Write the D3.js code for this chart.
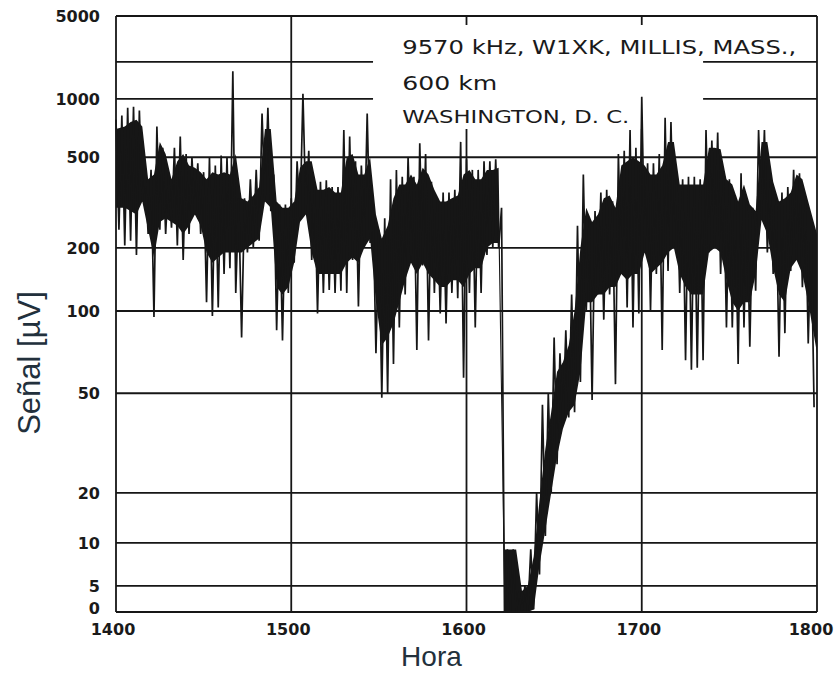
<!DOCTYPE html>
<html>
<head>
<meta charset="utf-8">
<script src="https://cdn.jsdelivr.net/npm/d3@7"></script>
<style>
  body { margin: 0; background: #fff; }
  svg { display: block; }
  .tick-lbl { font-family: "DejaVu Sans", sans-serif; font-weight: bold; font-size: 16px; fill: #1a1a1a; }
  .note { font-family: "DejaVu Sans", sans-serif; fill: #1a1a1a; }
  .title { font-family: "Liberation Sans", Arial, sans-serif; font-size: 31px; fill: #22303c; }
</style>
</head>
<body>
<svg id="chart"></svg>
<script>
// signal strength, 14:00 - 18:00, one peak and one trough per 2 minutes (uV)
const peaks = [
  780, 820, 900, 910, 870, 420, 440, 720, 560, 420,
  560, 640, 520, 500, 470, 430, 500, 460, 510, 500,
  1680, 330, 330, 400, 440, 840, 900, 420, 310, 310,
  330, 480, 1100, 540, 380, 390, 396, 370, 370, 690,
  640, 480, 460, 840, 300, 240, 270, 400, 440, 410,
  500, 410, 590, 520, 390, 330, 350, 350, 360, 600,
  490, 440, 440, 480, 480, 490, 300, 9, 9, 4,
  5, 9, 20, 45, 50, 80, 70, 85, 120, 250,
  420, 270, 290, 350, 360, 320, 520, 540, 690, 560,
  1040, 470, 470, 520, 800, 760, 400, 400, 410, 410,
  400, 690, 610, 670, 425, 400, 340, 425, 330, 300,
  690, 690, 400, 330, 350, 370, 440, 425, 330, 240
];
const troughs = [
  240, 205, 215, 185, 320, 230, 95, 240, 230, 245,
  205, 175, 230, 280, 230, 110, 96, 104, 150, 160,
  122, 80, 190, 200, 215, 320, 290, 85, 78, 122,
  170, 265, 290, 175, 98, 122, 126, 122, 125, 122,
  175, 105, 200, 210, 70, 48, 50, 64, 87, 120,
  175, 72, 165, 78, 122, 98, 90, 122, 115, 57,
  122, 87, 122, 185, 200, 200, 0, 0, 0, 0,
  0, 0.5, 6, 11, 20, 26, 37, 40, 42, 55,
  100, 47, 120, 93, 120, 54, 150, 104, 87, 98,
  190, 100, 150, 72, 155, 200, 122, 66, 61, 62,
  66, 190, 200, 150, 87, 87, 64, 87, 74, 125,
  265, 190, 150, 68, 83, 155, 175, 130, 76, 44
];
// dense (solid) part of the fading band, per 2 minutes (uV)
const coreTop = [
  700, 720, 760, 780, 720, 400, 420, 600, 520, 400,
  480, 520, 460, 450, 430, 400, 430, 420, 430, 420,
  520, 330, 320, 340, 370, 700, 700, 320, 300, 300,
  320, 450, 480, 480, 360, 360, 370, 350, 350, 500,
  520, 420, 420, 500, 280, 220, 250, 330, 380, 380,
  420, 380, 450, 420, 360, 320, 320, 330, 340, 420,
  440, 400, 400, 440, 440, 450, 9, 9, 9, 4,
  5, 8, 18, 30, 42, 60, 65, 75, 100, 200,
  300, 260, 280, 330, 340, 300, 460, 480, 500, 480,
  460, 420, 420, 460, 600, 600, 380, 380, 380, 380,
  380, 560, 560, 550, 400, 380, 320, 380, 310, 290,
  600, 600, 390, 320, 330, 350, 420, 400, 320, 230
];
const coreBottom = [
  300, 300, 290, 280, 320, 240, 180, 260, 270, 260,
  250, 230, 250, 280, 250, 190, 170, 180, 190, 190,
  190, 190, 200, 210, 220, 320, 300, 130, 120, 130,
  170, 260, 280, 190, 150, 150, 150, 150, 150, 170,
  180, 170, 200, 220, 110, 75, 80, 90, 110, 140,
  170, 150, 170, 150, 140, 130, 130, 140, 140, 130,
  150, 160, 160, 200, 210, 210, 0, 0, 0, 0,
  0, 0.5, 7, 12, 20, 28, 36, 42, 45, 60,
  110, 110, 120, 120, 130, 130, 150, 140, 150, 150,
  190, 150, 160, 170, 190, 200, 150, 130, 120, 120,
  120, 190, 200, 190, 140, 110, 100, 110, 110, 150,
  265, 230, 160, 120, 110, 160, 175, 150, 110, 70
];

const gridValues = [0, 5, 10, 20, 50, 100, 200, 500, 1000, 2000, 5000];
const yLabels = ["0", "5", "10", "20", "50", "100", "200", "500", "1000", "", "5000"];
const hourTicks = [0, 60, 120, 180, 240];
const hourLabels = ["1400", "1500", "1600", "1700", "1800"];
const noteLines = ["9570 kHz, W1XK, MILLIS, MASS.,", "600 km", "WASHINGTON, D. C."];

const W = 837, H = 673;
const margin = {top: 16, right: 20, bottom: 61, left: 116},
  width = W - margin.left - margin.right,
  height = H - margin.top - margin.bottom;

const svg = d3.select("#chart").attr("width", W).attr("height", H);
const g = svg.append("g").attr("transform", `translate(${margin.left},${margin.top})`);

const x = d3.scaleLinear().domain([0, 240]).range([0, width]);

// the recorder's scale is not a plain log scale; calibrate it at the grid values
const tr = v => v < 5 ? Math.log10(5) * v / 5 : Math.log10(v);
const yStops = [1, 0.956, 0.884, 0.800, 0.633, 0.495, 0.389, 0.237, 0.139, 0.077, 0];
const yS = d3.scaleLinear().domain(gridValues.map(tr)).range(yStops.map(f => f * height));
const y = v => yS(tr(v));

const ink = "#161616";

// horizontal grid, the two top lines stop around the caption
const gapFrom = 88, gapTo = 201;
gridValues.forEach(v => {
  const segs = (v === 1000 || v === 2000) ? [[0, gapFrom], [gapTo, 240]] : [[0, 240]];
  segs.forEach(s => {
    g.append("line")
      .attr("x1", x(s[0])).attr("x2", x(s[1]))
      .attr("y1", y(v)).attr("y2", y(v))
      .attr("stroke", ink).attr("stroke-width", 1.8);
  });
});

// vertical grid
hourTicks.forEach(t => {
  const top = (t === 120 || t === 180) ? y(700) : 0;
  g.append("line")
    .attr("x1", x(t)).attr("x2", x(t))
    .attr("y1", top).attr("y2", height)
    .attr("stroke", ink).attr("stroke-width", 1.8);
  if (top > 0) {
    g.append("line")
      .attr("x1", x(t)).attr("x2", x(t))
      .attr("y1", 0).attr("y2", 9)
      .attr("stroke", ink).attr("stroke-width", 1.8);
  }
});

// y tick labels
g.selectAll("text.ylbl")
  .data(gridValues.filter((v, i) => yLabels[i] !== ""))
  .join("text")
  .attr("class", "tick-lbl ylbl")
  .attr("x", -16)
  .attr("y", d => y(d))
  .attr("dy", d => d === 0 ? "0.1em" : "0.36em")
  .attr("text-anchor", "end")
  .text(d => yLabels[gridValues.indexOf(d)]);

// x tick labels
g.selectAll("text.xlbl")
  .data(hourTicks)
  .join("text")
  .attr("class", "tick-lbl xlbl")
  .attr("x", d => x(d) - (d === 240 ? 6 : 3))
  .attr("y", height + 23)
  .attr("text-anchor", "middle")
  .text((d, i) => hourLabels[i]);

// solid band
const binT = i => i === 0 ? 0 : (i === coreTop.length - 1 ? 240 : i * 2 + 1);
const band = d3.area()
  .x((d, i) => x(binT(i)))
  .y0((d, i) => y(coreBottom[i]))
  .y1(d => y(d));
g.append("path")
  .datum(coreTop)
  .attr("d", band)
  .attr("fill", ink);

// fast fading: alternate peak / trough each minute
const pts = [];
peaks.forEach((p, i) => {
  pts.push([i * 2, p]);
  pts.push([i * 2 + 1, troughs[i]]);
});
const line = d3.line().x(d => x(d[0])).y(d => y(d[1]));
g.append("path")
  .datum(pts)
  .attr("d", line)
  .attr("fill", "none")
  .attr("stroke", ink)
  .attr("stroke-width", 1.7)
  .attr("stroke-linejoin", "bevel");

// caption
const note = g.append("g").attr("transform", `translate(${x(98)},0)`);
note.append("text").attr("class", "note").attr("x", 0).attr("y", 38)
  .attr("font-size", 20).attr("textLength", 394).attr("lengthAdjust", "spacingAndGlyphs")
  .text(noteLines[0]);
note.append("text").attr("class", "note").attr("x", 0).attr("y", 74)
  .attr("font-size", 20).attr("textLength", 95).attr("lengthAdjust", "spacingAndGlyphs")
  .text(noteLines[1]);
note.append("text").attr("class", "note").attr("x", 0).attr("y", 107)
  .attr("font-size", 17).attr("textLength", 227).attr("lengthAdjust", "spacingAndGlyphs")
  .text(noteLines[2]);

// axis titles
svg.append("text").attr("class", "title")
  .attr("x", margin.left + width * 0.45).attr("y", 666)
  .style("font-size", "28px")
  .attr("text-anchor", "middle").text("Hora");
svg.append("text").attr("class", "title")
  .attr("transform", "translate(40,363) rotate(-90)")
  .attr("text-anchor", "middle").text("Señal [µV]");
</script>
</body>
</html>
